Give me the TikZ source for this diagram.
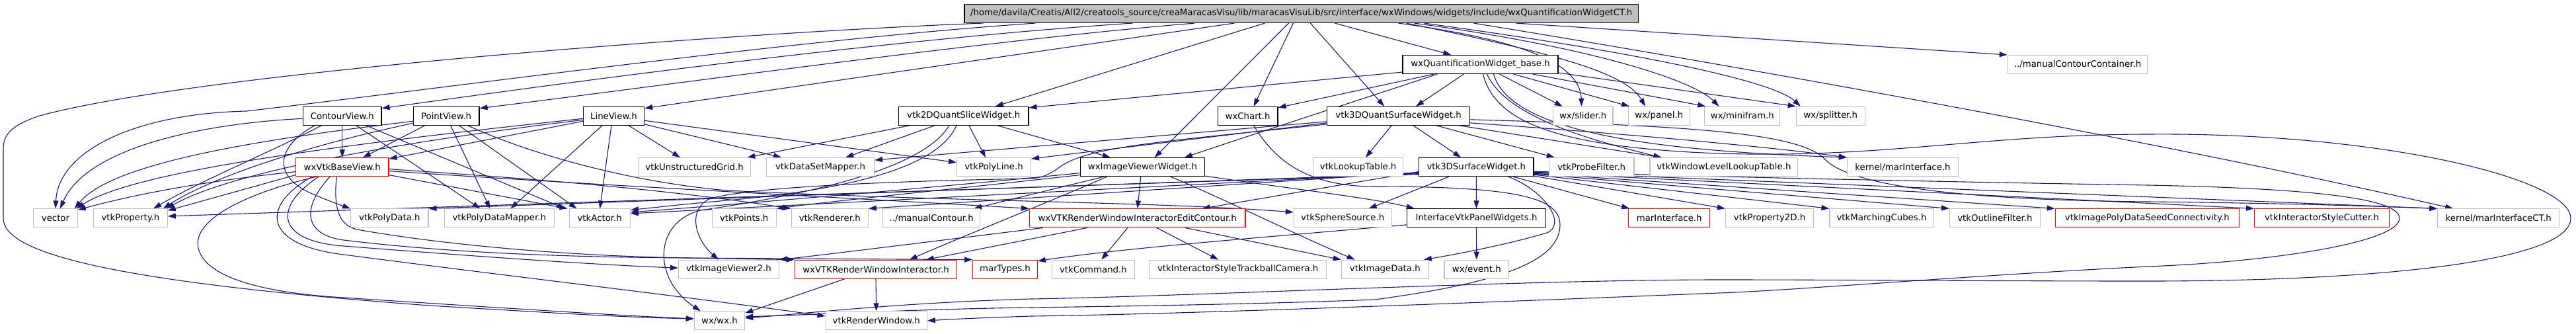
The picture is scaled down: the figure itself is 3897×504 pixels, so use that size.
\documentclass[tikz,border=0pt]{standalone}
\usepackage{fontspec}
\setmainfont{DejaVu Sans}
\usetikzlibrary{arrows.meta}
\definecolor{edgec}{RGB}{25,25,112}
\definecolor{greyb}{RGB}{191,191,191}
\pgfdeclarelayer{bg}
\pgfsetlayers{bg,main}
\tikzset{
 nd/.style={rectangle, minimum height=28pt, inner xsep=2pt, inner ysep=0pt, line width=1.1pt, fill=white, font=\fontsize{13.3}{16}\selectfont, text=black},
 blk/.style={nd, draw=black},
 gry/.style={nd, draw=greyb},
 rd/.style={nd, draw=red},
 edg/.style={draw=edgec, line width=1.1pt, -{Triangle[length=12pt,width=8pt]}},
}
\begin{document}
\begin{tikzpicture}[x=1pt,y=-1pt]
\useasboundingbox (0,0) rectangle (3897,504);
% row 0
\node[blk, fill=greyb, minimum width=1019.5pt] (root) at (1968.7,20.5) {/home/davila/Creatis/All2/creatools\_source/creaMaracasVisu/lib/maracasVisuLib/src/interface/wxWindows/widgets/include/wxQuantificationWidgetCT.h};
% row 1
\node[blk, minimum width=235pt] (base) at (2239.5,97.5) {wxQuantificationWidget\_base.h};
\node[gry, minimum width=211.5pt] (mcc) at (3143,97.5) {../manualContourContainer.h};
% row 2
\node[blk, minimum width=118.4pt] (contourview) at (517.8,175.3) {ContourView.h};
\node[blk, minimum width=99.8pt] (pointview) at (675.1,175.3) {PointView.h};
\node[blk, minimum width=92pt] (lineview) at (928.5,175.3) {LineView.h};
\node[blk, minimum width=196.5pt] (slice2d) at (1457.7,175.3) {vtk2DQuantSliceWidget.h};
\node[blk, minimum width=90.8pt] (wxchart) at (1887.6,175.3) {wxChart.h};
\node[blk, minimum width=216pt] (qsurf) at (2115.6,175.3) {vtk3DQuantSurfaceWidget.h};
\node[gry, minimum width=90.8pt] (slider) at (2394.6,175.3) {wx/slider.h};
\node[gry, minimum width=92.5pt] (panel) at (2509.8,175.3) {wx/panel.h};
\node[gry, minimum width=114pt] (minifram) at (2635.9,175.3) {wx/minifram.h};
\node[gry, minimum width=104pt] (splitter) at (2769.3,175.3) {wx/splitter.h};
% row 3
\node[rd, minimum width=140.3pt] (basev) at (517.8,252.6) {wxVtkBaseView.h};
\node[gry, minimum width=170.3pt] (ugrid) at (1050.6,252.6) {vtkUnstructuredGrid.h};
\node[gry, minimum width=162.8pt] (dsmapper) at (1241.1,252.6) {vtkDataSetMapper.h};
\node[gry, minimum width=112pt] (polyline) at (1503.5,252.6) {vtkPolyLine.h};
\node[blk, minimum width=188.4pt] (imgviewer) at (1728.5,252.6) {wxImageViewerWidget.h};
\node[gry, minimum width=136.2pt] (lut) at (2054.6,252.6) {vtkLookupTable.h};
\node[blk, minimum width=173.3pt] (surf3d) at (2233.3,252.6) {vtk3DSurfaceWidget.h};
\node[gry, minimum width=128.6pt] (probe) at (2407.7,252.6) {vtkProbeFilter.h};
\node[gry, minimum width=223.9pt] (wllut) at (2607.9,252.6) {vtkWindowLevelLookupTable.h};
\node[gry, minimum width=168.3pt] (marint) at (2878.5,252.6) {kernel/marInterface.h};
% row 4
\node[gry, minimum width=66.6pt] (vector) at (84,329.9) {vector};
\node[gry, minimum width=111.6pt] (property) at (197.5,329.9) {vtkProperty.h};
\node[gry, minimum width=117.3pt] (polydata) at (589.3,329.9) {vtkPolyData.h};
\node[gry, minimum width=166.3pt] (pdmapper) at (755.2,329.9) {vtkPolyDataMapper.h};
\node[gry, minimum width=92.3pt] (actor) at (907.2,329.9) {vtkActor.h};
\node[gry, minimum width=97.3pt] (points) at (1125.7,329.9) {vtkPoints.h};
\node[gry, minimum width=116.3pt] (renderer) at (1255.2,329.9) {vtkRenderer.h};
\node[gry, minimum width=147pt] (mcontour) at (1409.2,329.9) {../manualContour.h};
\node[rd, minimum width=326.6pt] (editcontour) at (1720.7,329.9) {wxVTKRenderWindowInteractorEditContour.h};
\node[gry, minimum width=147.8pt] (sphere) at (2031.2,329.9) {vtkSphereSource.h};
\node[blk, minimum width=210.4pt] (ivpw) at (2233.5,329.9) {InterfaceVtkPanelWidgets.h};
\node[rd, minimum width=123pt] (marinterface) at (2525.2,329.9) {marInterface.h};
\node[gry, minimum width=133.4pt] (property2d) at (2677.1,329.9) {vtkProperty2D.h};
\node[gry, minimum width=157.1pt] (mcubes) at (2846.5,329.9) {vtkMarchingCubes.h};
\node[gry, minimum width=136.8pt] (outline) at (3017.9,329.9) {vtkOutlineFilter.h};
\node[rd, minimum width=278.3pt] (seed) at (3248.3,329.9) {vtkImagePolyDataSeedConnectivity.h};
\node[rd, minimum width=204pt] (cutter) at (3512.5,329.9) {vtkInteractorStyleCutter.h};
\node[gry, minimum width=184pt] (marinterfacect) at (3779.7,329.9) {kernel/marInterfaceCT.h};
% row 5
\node[gry, minimum width=152pt] (imgviewer2) at (1102.4,407.2) {vtkImageViewer2.h};
\node[rd, minimum width=245.5pt] (rwi) at (1325,407.2) {wxVTKRenderWindowInteractor.h};
\node[rd, minimum width=97.5pt] (martypes) at (1520.5,407.2) {marTypes.h};
\node[gry, minimum width=124.3pt] (command) at (1653.9,407.2) {vtkCommand.h};
\node[gry, minimum width=268pt] (trackball) at (1872.7,407.2) {vtkInteractorStyleTrackballCamera.h};
\node[gry, minimum width=132pt] (imagedata) at (2095.3,407.2) {vtkImageData.h};
\node[gry, minimum width=97.7pt] (event) at (2233.8,407.2) {wx/event.h};
% row 6
\node[gry, minimum width=76.4pt] (wxwx) at (1088.5,484.9) {wx/wx.h};
\node[gry, minimum width=153.3pt] (renwin) at (1325.7,484.9) {vtkRenderWindow.h};

\begin{pgfonlayer}{bg}
% root
\draw[edg] ([xshift=29pt]root.south west) .. controls (1100,50) and (300,110) .. (60,175) .. controls (15,190) and (5,205) .. (5,225) -- (5,330) .. controls (5,380) and (150,425) .. (650,462) .. controls (850,474) and (950,480) .. ([yshift=3pt]wxwx.west);
\draw[edg] ([xshift=108pt]root.south west) .. controls (1200,60) and (700,130) .. (373,168) .. controls (200,172) and (88,230) .. (vector.north);
\draw[edg] ([xshift=255pt]root.south west) .. controls (1300,62) and (750,140) .. ([yshift=-3pt]contourview.north east);
\draw[edg] ([xshift=349pt]root.south west) .. controls (1500,60) and (1000,130) .. ([yshift=-3pt]pointview.north east);
\draw[edg] ([xshift=409pt]root.south west) -- ([yshift=-3pt]lineview.north east);
\draw[edg] ([xshift=455pt]root.south west) -- ([xshift=147pt]slice2d.north west);
\draw[edg] ([xshift=491pt]root.south west) -- ([xshift=113pt]imgviewer.north west);
\draw[edg] ([xshift=498pt]root.south west) -- ([xshift=55pt]wxchart.north west);
\draw[edg] ([xshift=524pt]root.south west) -- ([xshift=87pt]qsurf.north west);
\draw[edg] ([xshift=561pt]root.south west) -- ([xshift=74pt]base.north west);
\draw[edg] ([xshift=657pt]root.south west) .. controls (2300,60) and (2390,95) .. ([xshift=44pt]slider.north west);
\draw[edg] ([xshift=669pt]root.south west) .. controls (2350,80) and (2460,110) .. ([xshift=26pt]panel.north west);
\draw[edg] ([xshift=681pt]root.south west) .. controls (2400,70) and (2560,120) .. ([xshift=22pt]minifram.north west);
\draw[edg] ([xshift=696pt]root.south west) .. controls (2450,75) and (2680,120) .. ([xshift=7pt]splitter.north west);
\draw[edg] ([xshift=835pt]root.south west) -- (mcc.north west);
\draw[edg] ([xshift=771pt]root.south west) .. controls (2600,95) and (3250,210) .. ([xshift=24pt]marinterfacect.north west);
% base
\draw[edg] ([yshift=3pt]base.south west) -- ([yshift=-2pt]slice2d.north east);
\draw[edg] ([xshift=48pt]base.south west) -- ([yshift=-2pt]wxchart.north east);
\draw[edg] ([xshift=53pt]base.south west) .. controls (2060,150) and (1920,195) .. ([xshift=158pt]imgviewer.north west);
\draw[edg] ([xshift=93pt]base.south west) -- ([xshift=135pt]qsurf.north west);
\draw[edg] ([xshift=147pt]base.south west) -- ([xshift=15pt]slider.north west);
\draw[edg] ([xshift=168pt]base.south west) -- ([xshift=2pt]panel.north west);
\draw[edg] ([xshift=197pt]base.south west) -- ([xshift=2pt]minifram.north west);
\draw[edg] ([yshift=2pt]base.south east) -- (splitter.north west);
\draw[edg] ([xshift=138pt]base.south west) .. controls (2285,200) and (2500,228) .. (marint.north west);
\draw[edg] ([xshift=128pt]base.south west) .. controls (2280,180) and (2420,215) .. ([xshift=18pt]wllut.north west);
\draw[edg] ([xshift=122pt]base.south west) .. controls (2260,175) and (2330,222) .. (2600,232) .. controls (2850,240) and (3000,203) .. (3250,203) .. controls (3600,200) and (3889,270) .. (3889,330) .. controls (3889,395) and (3600,425) .. (3250,425) .. controls (3000,425) and (2800,423) .. (2600,423) .. controls (2300,423) and (1800,448) .. (1560,452) .. controls (1350,458) and (1200,476) .. ([yshift=4pt]wxwx.east);
% qsurf
\draw[edg] ([xshift=98pt]qsurf.south west) -- ([xshift=80pt]lut.north west);
\draw[edg] ([xshift=131pt]qsurf.south west) -- ([xshift=64pt]surf3d.north west);
\draw[edg] ([xshift=166pt]qsurf.south west) -- ([xshift=9pt]probe.north west);
\draw[edg] ([xshift=201pt]qsurf.south west) -- ([xshift=18pt]wllut.north west);
\draw[edg] ([yshift=4pt]qsurf.south east) .. controls (2500,205) and (2700,225) .. (marint.north west);
\draw[edg] ([yshift=9pt]qsurf.south east) .. controls (2550,190) and (2720,200) .. (2760,240) .. controls (2800,285) and (3000,303) .. (3250,305) .. controls (3450,307) and (3600,312) .. (marinterfacect.north west);
\draw[edg] ([yshift=4pt]qsurf.south west) -- ([yshift=-2pt]polyline.north east);
\draw[edg] ([yshift=6pt]qsurf.south west) -- ([yshift=-4pt]dsmapper.north east);
\draw[edg] ([yshift=2pt]qsurf.south west) .. controls (1750,215) and (1640,222) .. (1600,255) .. controls (1585,265) and (1575,269) .. (1560,270) .. controls (1400,273) and (1150,280) .. (1075,300) .. controls (1040,315) and (1050,360) .. ([xshift=61pt]imgviewer2.north west);
% slice2d
\draw[edg] ([xshift=17pt]slice2d.south west) -- ([xshift=-6pt]ugrid.north east);
\draw[edg] ([xshift=55pt]slice2d.south west) -- ([xshift=120pt]dsmapper.north west);
\draw[edg] ([xshift=107pt]slice2d.south west) -- ([xshift=44pt]polyline.north west);
\draw[edg] ([xshift=150pt]slice2d.south west) -- ([xshift=46pt]imgviewer.north west);
\draw[edg] ([xshift=77pt]slice2d.south west) .. controls (1400,250) and (1250,290) .. (1060,318) .. controls (990,335) and (985,420) .. ([xshift=10pt]wxwx.north west);
\draw[edg] ([xshift=88pt]slice2d.south west) .. controls (1420,250) and (1300,285) .. (1100,303) .. controls (1020,310) and (980,315) .. ([yshift=-2pt]actor.north east);
% lineview
\draw[edg] ([yshift=-4pt]lineview.west) .. controls (500,220) and (200,260) .. ([xshift=-2pt]vector.north east);
\draw[edg] ([yshift=-6pt]lineview.west) .. controls (600,215) and (350,260) .. ([xshift=-2pt]property.north east);
\draw[edg] ([yshift=-8pt]lineview.west) -- ([yshift=-2pt]basev.north east);
\draw[edg] ([xshift=29pt]lineview.south west) -- ([xshift=101pt]pdmapper.north west);
\draw[edg] ([xshift=43pt]lineview.south west) -- ([xshift=47pt]actor.north west);
\draw[edg] ([xshift=69pt]lineview.south west) -- ([xshift=64pt]ugrid.north west);
\draw[edg] ([yshift=2pt]lineview.south east) -- ([xshift=23pt]dsmapper.north west);
\draw[edg] ([yshift=-7pt]lineview.east) -- ([yshift=7pt]polyline.west);
% pointview
\draw[edg] ([yshift=-8pt]pointview.west) .. controls (400,210) and (170,245) .. ([xshift=-5pt]vector.north east);
\draw[edg] ([yshift=-11pt]pointview.west) .. controls (420,230) and (300,280) .. ([xshift=-7pt]property.north east);
\draw[edg] ([xshift=18pt]pointview.south west) -- ([xshift=102pt]basev.north west);
\draw[edg] ([xshift=57pt]pointview.south west) -- ([xshift=70pt]pdmapper.north west);
\draw[edg] ([xshift=70pt]pointview.south west) -- ([xshift=12pt]actor.north west);
\draw[edg] ([xshift=83pt]pointview.south west) .. controls (800,232) and (950,275) .. (1100,288) .. controls (1450,305) and (1750,305) .. ([yshift=9pt]sphere.west);
% contourview
\draw[edg] (contourview.south) -- (basev.north);
\draw[edg] ([yshift=-4pt]contourview.west) .. controls (300,187) and (130,225) .. ([xshift=7pt]vector.north);
\draw[edg] ([xshift=28pt]contourview.south west) .. controls (420,225) and (300,275) .. ([xshift=91pt]property.north west);
\draw[edg] ([xshift=18pt]contourview.south west) .. controls (420,220) and (410,265) .. (470,292) .. controls (495,303) and (515,310) .. (polydata.north west);
\draw[edg] ([xshift=81pt]contourview.south west) -- ([xshift=55pt]pdmapper.north west);
\draw[edg] ([xshift=96pt]contourview.south west) -- ([xshift=-6pt]actor.north west);
% basev
\draw[edg] ([yshift=-7pt]basev.west) .. controls (300,275) and (200,295) .. ([yshift=-2pt]vector.north east);
\draw[edg] ([yshift=-12pt]basev.west) -- ([yshift=-3pt]property.north east);
\draw[edg] ([xshift=32pt]basev.south west) .. controls (380,290) and (290,330) .. (300,375) .. controls (310,420) and (400,443) .. (520,450) .. controls (750,465) and (950,478) .. ([yshift=3pt]wxwx.west);
\draw[edg] ([xshift=25pt]basev.south west) .. controls (395,310) and (395,370) .. (520,385) .. controls (750,415) and (1050,450) .. ([yshift=7pt]renwin.west);
\draw[edg] ([xshift=35pt]basev.south west) .. controls (410,315) and (420,365) .. (520,372) .. controls (750,390) and (900,400) .. ([yshift=2pt]imgviewer2.west);
\draw[edg] ([xshift=52pt]basev.south west) .. controls (455,315) and (460,355) .. (520,363) .. controls (700,385) and (900,389) .. (1040,390) -- (martypes.north west);
\draw[edg] ([xshift=62pt]basev.south west) .. controls (505,310) and (510,340) .. (540,347) .. controls (700,375) and (900,388) .. (1040,390) -- (rwi.north west);
\draw[edg] ([yshift=-3pt]basev.east) .. controls (800,270) and (1000,285) .. (renderer.north west);
\draw[edg] ([yshift=-6pt]basev.east) .. controls (900,280) and (1300,300) .. (editcontour.north west);
\draw[edg] ([yshift=-12pt]basev.east) -- ([xshift=-2pt]actor.north west);
% imgviewer
\draw[edg] ([xshift=92pt]imgviewer.south west) -- ([xshift=164pt]editcontour.north west);
\draw[edg] ([xshift=41pt]imgviewer.south west) .. controls (1600,300) and (1450,360) .. ([xshift=174pt]rwi.north west);
\draw[edg] ([xshift=36pt]imgviewer.south west) -- ([xshift=-10pt]mcontour.north east);
\draw[edg] ([xshift=137pt]imgviewer.south west) .. controls (1850,300) and (1950,350) .. ([xshift=21pt]imagedata.north west);
\draw[edg] ([yshift=1pt]imgviewer.south east) .. controls (1950,285) and (2080,300) .. ([xshift=12pt]ivpw.north west);
\draw[edg] ([yshift=-9pt]imgviewer.west) .. controls (1400,285) and (1100,310) .. ([yshift=9pt]actor.east);
\draw[edg] ([yshift=-12pt]imgviewer.west) .. controls (1450,285) and (1250,305) .. (points.north east);
% editcontour
\draw[edg] ([xshift=149pt]editcontour.south west) -- ([xshift=75pt]command.north west);
\draw[edg] ([xshift=193pt]editcontour.south west) -- ([xshift=105pt]trackball.north west);
\draw[edg] ([xshift=236pt]editcontour.south west) -- (imagedata.north west);
\draw[edg] ([xshift=88pt]editcontour.south west) -- ([xshift=199pt]rwi.north west);
\draw[edg] ([xshift=21pt]editcontour.south west) .. controls (1450,360) and (1250,385) .. (imgviewer2.north east);
% rwi
\draw[edg] (rwi.south) -- (renwin.north);
\draw[edg] ([xshift=76pt]rwi.south west) -- ([yshift=-3pt]wxwx.north east);
% surf3d
\draw[edg] ([xshift=46pt]surf3d.south west) -- ([xshift=-35pt]sphere.north east);
\draw[edg] (surf3d.south) -- (ivpw.north);
\draw[edg] ([xshift=143pt]surf3d.south west) -- ([xshift=2pt]marinterface.north west);
\draw[edg] ([yshift=1pt]surf3d.south east) -- (property2d.north west);
\draw[edg] ([yshift=3pt]surf3d.south east) -- (mcubes.north west);
\draw[edg] ([yshift=4pt]surf3d.south east) -- (outline.north west);
\draw[edg] ([yshift=5pt]surf3d.south east) -- (seed.north west);
\draw[edg] ([yshift=6pt]surf3d.south east) -- (cutter.north west);
\draw[edg] ([yshift=7pt]surf3d.south east) -- (marinterfacect.north west);
\draw[edg] ([yshift=8pt]surf3d.south east) .. controls (2600,268) and (3000,276) .. (3250,280) .. controls (3500,285) and (3630,300) .. (3630,330) .. controls (3630,365) and (3450,395) .. (3250,403) .. controls (3000,415) and (2700,440) .. (2600,443) .. controls (2300,455) and (1800,475) .. (1560,478) .. controls (1500,480) and (1450,482) .. (renwin.east);
\draw[edg] ([xshift=136pt]surf3d.south west) .. controls (2340,290) and (2370,340) .. (2340,352) .. controls (2280,370) and (2200,385) .. ([xshift=-8pt]imagedata.north east);
\draw[edg] ([yshift=-11pt]surf3d.west) -- ([yshift=3pt]property.east);
\draw[edg] ([yshift=-10pt]surf3d.west) -- (polydata.north east);
\draw[edg] ([yshift=-9pt]surf3d.west) -- ([yshift=7pt]actor.east);
\draw[edg] ([yshift=-8pt]surf3d.west) -- (renderer.north east);
\draw[edg] ([yshift=-7pt]surf3d.west) -- ([xshift=-66pt]editcontour.north east);
% ivpw
\draw[edg] (ivpw.south) -- (event.north);
\draw[edg] ([yshift=-10pt]ivpw.west) .. controls (1900,360) and (1700,375) .. ([yshift=-2pt]martypes.north east);
% wxchart
\draw[edg] ([xshift=55pt]wxchart.south west) .. controls (1930,245) and (1980,282) .. (2080,282) .. controls (2300,282) and (2360,300) .. (2360,340) .. controls (2360,400) and (2250,430) .. (2080,453) .. controls (1900,460) and (1700,463) .. (1560,465) .. controls (1400,467) and (1250,475) .. ([yshift=6pt]wxwx.east);
\end{pgfonlayer}
\end{tikzpicture}
\end{document}
